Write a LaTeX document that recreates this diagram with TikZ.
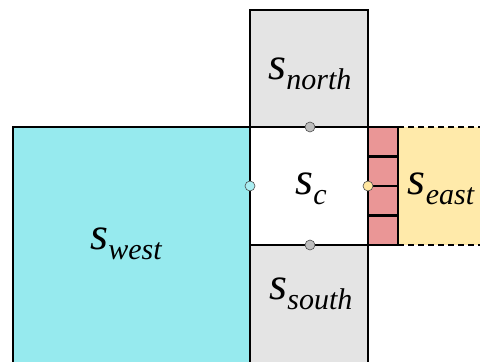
\documentclass[tikz,border=0pt]{standalone}
\usepackage{fontspec}
\newfontfamily\labfont{Liberation Serif}
\definecolor{westfill}{RGB}{150,234,238}
\definecolor{grayfill}{RGB}{228,228,228}
\definecolor{eastfill}{RGB}{255,234,170}
\definecolor{cellfill}{RGB}{234,150,150}
\definecolor{dotgray}{RGB}{190,190,190}
\definecolor{dotcyan}{RGB}{170,238,242}
\definecolor{dotyellow}{RGB}{255,230,160}
\newcommand{\subname}[2]{\labfont\itshape #1\raisebox{-10pt}{\fontsize{30}{30}\selectfont\labfont\itshape #2}}
\begin{document}
\begin{tikzpicture}[
  cell/.style={draw=black,line width=2.5pt},
  lbl/.style={inner sep=0pt,anchor=base,font=\fontsize{46}{46}\selectfont},
  joint/.style={circle,draw=black!70,line width=0.6pt,minimum size=10pt,inner sep=0pt}]
  \useasboundingbox[fill=white] (0pt,0pt) rectangle (480pt,362pt);
  \clip (0pt,0pt) rectangle (480pt,362pt);
  % west region
  \fill[westfill] (13pt,235pt) rectangle (250pt,-18pt);
  \draw[cell] (13pt,-18pt) -- (13pt,235pt) -- (250pt,235pt);
  % north and south neighbours
  \draw[cell,fill=grayfill] (250pt,352pt) rectangle (368pt,235pt);
  \draw[cell,fill=grayfill] (250pt,117pt) rectangle (368pt,-18pt);
  % east region, open to the right
  \fill[eastfill] (398pt,235pt) rectangle (490pt,117pt);
  \draw[line width=2.5pt,dash pattern=on 6pt off 4pt] (398pt,235pt) -- (490pt,235pt);
  \draw[line width=2.5pt,dash pattern=on 6pt off 4pt] (398pt,117pt) -- (490pt,117pt);
  % centre cell
  \draw[cell,fill=white] (250pt,235pt) rectangle (368pt,117pt);
  % boundary strip of four cells
  \foreach \a/\b in {235/205.5,205.5/176,176/146.5,146.5/117}
    \draw[cell,fill=cellfill] (368pt,\a pt) rectangle (398pt,\b pt);
  \draw[cell] (250pt,235pt) -- (250pt,-18pt);
  % interface points
  \node[joint,fill=dotgray] (jn) at (310pt,235pt) {};
  \node[joint,fill=dotgray] (js) at (310pt,117pt) {};
  \node[joint,fill=dotcyan] (jw) at (250pt,176pt) {};
  \node[joint,fill=dotyellow] (je) at (368pt,176pt) {};
  % labels
  \node[lbl] (ln) at (310pt,282pt) {\subname{s}{north}};
  \node[lbl] (lc) at (311pt,167pt) {\subname{s}{c}};
  \node[lbl] (le) at (441pt,167pt) {\subname{s}{east}};
  \node[lbl] (lw) at (126pt,112pt) {\subname{s}{west}};
  \node[lbl] (ls) at (311pt,62pt) {\subname{s}{south}};
\end{tikzpicture}
\end{document}
